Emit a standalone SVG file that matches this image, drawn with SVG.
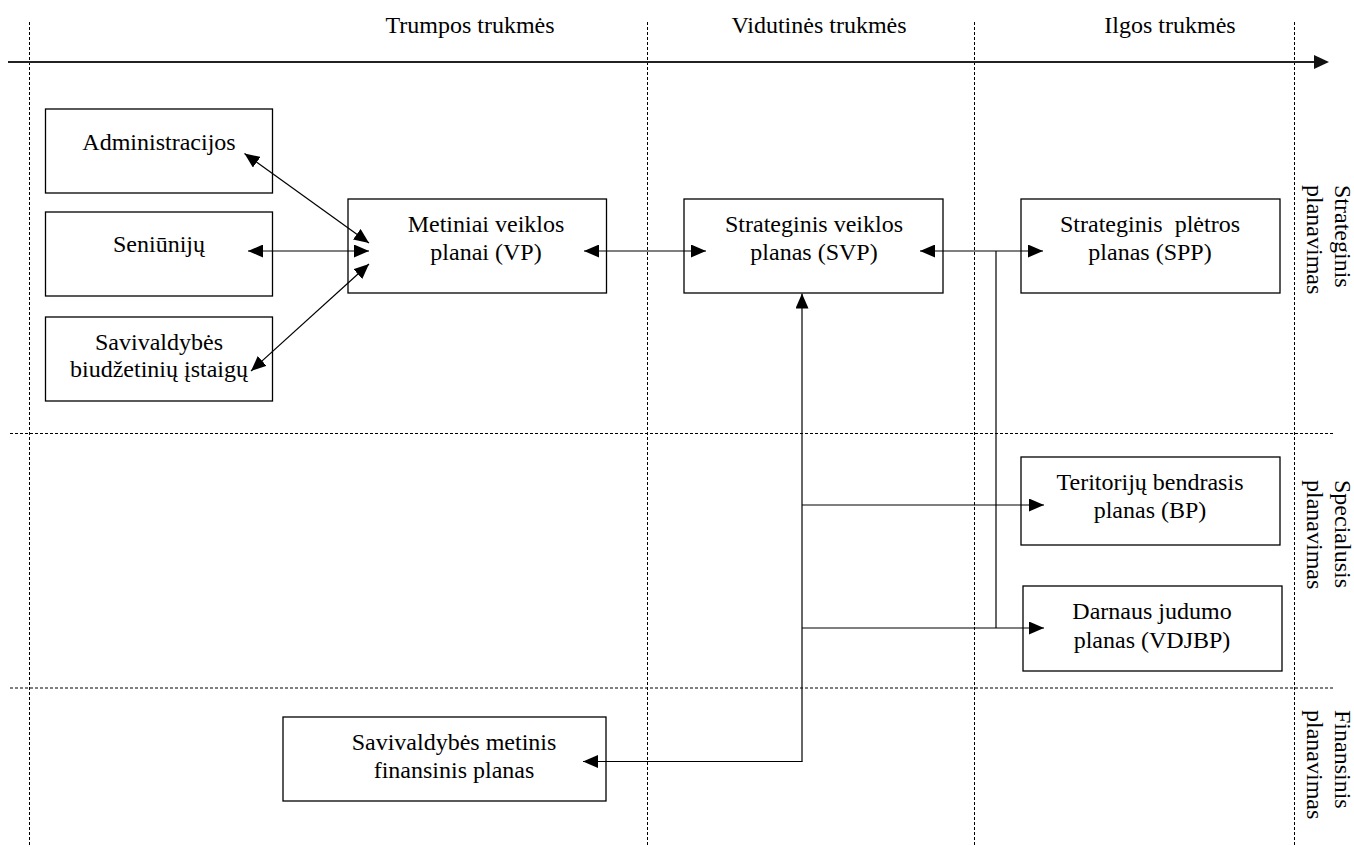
<svg xmlns="http://www.w3.org/2000/svg" width="1354" height="845" viewBox="0 0 1354 845">
<style>
.bg{fill:#fff}
.box{fill:#fff;stroke:#000;stroke-width:1.3}
.t{font-family:'Liberation Serif','DejaVu Serif',serif;font-size:24px;fill:#000}
.c{text-anchor:middle}
.dash{stroke:#000;stroke-width:1;stroke-dasharray:3 2;fill:none}
.conn{stroke:#000;stroke-width:1.2;fill:none}
.axis{stroke:#222;stroke-width:1.8;fill:none}
</style>
<defs>
<marker id="ah" viewBox="0 0 15 13" refX="15" refY="6.5" markerWidth="15" markerHeight="13" markerUnits="userSpaceOnUse" orient="auto-start-reverse">
<path d="M0,0 L15,6.5 L0,13 z" fill="#000"/>
</marker>
</defs>
<rect class="bg" x="0" y="0" width="1354" height="845"/>
<g id="grid">
<line class="dash" x1="29.5" y1="22" x2="29.5" y2="845"/>
<line class="dash" x1="647.5" y1="22" x2="647.5" y2="845"/>
<line class="dash" x1="974.5" y1="22" x2="974.5" y2="845"/>
<line class="dash" x1="1294.5" y1="22" x2="1294.5" y2="845"/>
<line class="dash" x1="10" y1="433.5" x2="1334" y2="433.5"/>
<line class="dash" x1="10" y1="688" x2="1334" y2="688"/>
</g>
<g id="axis">
<line class="axis" x1="8" y1="62" x2="1315" y2="62"/>
<polygon points="1314,55 1329,62 1314,69" fill="#111"/>
</g>
<g id="headers" font-family="Liberation Serif, DejaVu Serif, serif">
<text class="t c" x="470" y="33">Trumpos trukmės</text>
<text class="t c" x="819" y="33">Vidutinės trukmės</text>
<text class="t c" x="1170" y="33">Ilgos trukmės</text>
</g>
<g id="row-labels" font-family="Liberation Serif, DejaVu Serif, serif">
<g transform="translate(1335,185) rotate(90)"><text class="t" x="0" y="0">Strateginis</text><text class="t" x="0" y="28">planavimas</text></g>
<g transform="translate(1335,480) rotate(90)"><text class="t" x="0" y="0">Specialusis</text><text class="t" x="0" y="28">planavimas</text></g>
<g transform="translate(1335,710) rotate(90)"><text class="t" x="0" y="0">Finansinis</text><text class="t" x="0" y="28">planavimas</text></g>
</g>
<g id="n-admin">
<rect class="box" x="45.5" y="109" width="227" height="84"/>
<text class="t c" x="159" y="150">Administracijos</text>
</g>
<g id="n-seniunijos">
<rect class="box" x="45.5" y="212" width="227" height="84"/>
<text class="t c" x="159" y="252">Seniūnijų</text>
</g>
<g id="n-istaigos">
<rect class="box" x="45.5" y="317" width="227" height="84"/>
<text class="t c" x="159" y="350">Savivaldybės</text>
<text class="t c" x="159" y="377">biudžetinių įstaigų</text>
</g>
<g id="n-vp">
<rect class="box" x="348" y="199" width="258.5" height="94"/>
<text class="t c" x="486" y="232">Metiniai veiklos</text>
<text class="t c" x="486" y="260">planai (VP)</text>
</g>
<g id="n-svp">
<rect class="box" x="684" y="199" width="259" height="94"/>
<text class="t c" x="814" y="232">Strateginis veiklos</text>
<text class="t c" x="814" y="260">planas (SVP)</text>
</g>
<g id="n-spp">
<rect class="box" x="1021" y="199" width="259" height="94"/>
<text class="t c" x="1150" y="232" xml:space="preserve">Strateginis  plėtros</text>
<text class="t c" x="1150" y="260">planas (SPP)</text>
</g>
<g id="n-bp">
<rect class="box" x="1021" y="457" width="259" height="88"/>
<text class="t c" x="1150" y="490">Teritorijų bendrasis</text>
<text class="t c" x="1150" y="518">planas (BP)</text>
</g>
<g id="n-vdjbp">
<rect class="box" x="1023" y="586" width="259" height="85"/>
<text class="t c" x="1152" y="619">Darnaus judumo</text>
<text class="t c" x="1152" y="648">planas (VDJBP)</text>
</g>
<g id="n-fin">
<rect class="box" x="283" y="717" width="323" height="84"/>
<text class="t c" x="454" y="750">Savivaldybės metinis</text>
<text class="t c" x="454" y="778">finansinis planas</text>
</g>
<g id="connectors">
<line class="conn" x1="244.5" y1="153.5" x2="369" y2="243" marker-start="url(#ah)" marker-end="url(#ah)"/>
<line class="conn" x1="248" y1="251" x2="369" y2="251" marker-start="url(#ah)" marker-end="url(#ah)"/>
<line class="conn" x1="251" y1="371" x2="369" y2="264" marker-start="url(#ah)" marker-end="url(#ah)"/>
<line class="conn" x1="584" y1="251" x2="706" y2="251" marker-start="url(#ah)" marker-end="url(#ah)"/>
<line class="conn" x1="920" y1="251" x2="1043" y2="251" marker-start="url(#ah)" marker-end="url(#ah)"/>
<line class="conn" x1="996" y1="251" x2="996" y2="628"/>
<line class="conn" x1="802" y1="761.5" x2="802" y2="293.5" marker-end="url(#ah)"/>
<line class="conn" x1="802.6" y1="761.5" x2="583" y2="761.5" marker-end="url(#ah)"/>
<line class="conn" x1="802" y1="505" x2="1044" y2="505" marker-end="url(#ah)"/>
<line class="conn" x1="802" y1="628" x2="1044" y2="628" marker-end="url(#ah)"/>
</g>
</svg>
